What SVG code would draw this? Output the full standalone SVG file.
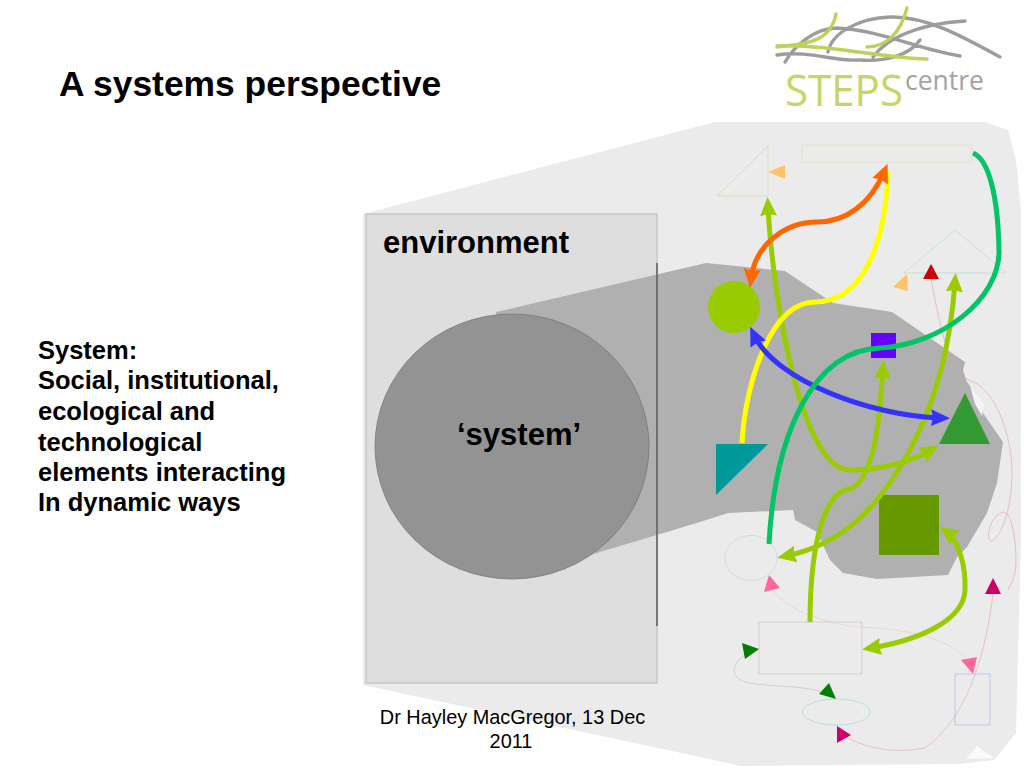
<svg xmlns="http://www.w3.org/2000/svg" width="1024" height="768" viewBox="0 0 1024 768">
<style>
text{font-family:"Liberation Sans",Arial,sans-serif;fill:#000}
.b{font-weight:bold}
.thick{fill:none;stroke-width:5;stroke-linecap:butt}
.thin{fill:none;stroke-width:.6}
.lg{stroke:#99cc00}
.logoG{fill:none;stroke:#9c9c9c;stroke-width:3.4;stroke-linecap:round}
.logoL{fill:none;stroke:#bdd258;stroke-width:3.4;stroke-linecap:round}
</style>
<defs>
<marker id="aLg" markerUnits="userSpaceOnUse" markerWidth="21" markerHeight="19" refX="10" refY="9" orient="auto-start-reverse"><path d="M0 0.500L19 9L0 17.500L2 9Z" fill="#99cc00"/></marker>
<marker id="aOr" markerUnits="userSpaceOnUse" markerWidth="21" markerHeight="19" refX="10" refY="9" orient="auto-start-reverse"><path d="M0 0.500L19 9L0 17.500L2 9Z" fill="#ff6600"/></marker>
<marker id="aBl" markerUnits="userSpaceOnUse" markerWidth="21" markerHeight="19" refX="10" refY="9" orient="auto-start-reverse"><path d="M0 0.500L19 9L0 17.500L2 9Z" fill="#3333ff"/></marker>
</defs>
<rect width="1024" height="768" fill="#fff"/>
<g id="background">
<polygon points="363,214 715,122 985,122 1008,130 1016,160 1021,210 1021,540 1016,733 994,760 960,764 740,766 700,757 363,685" fill="#ebebeb"/>
<polygon points="966,759 977,746 985,752 995,758" fill="#fafafa"/>
<rect x="366" y="214" width="291" height="469" fill="#dedede" stroke="#b8b8b8"/>
<polygon points="496,312 706,263 785,271 833,303 892,312 965,362 963,370 967,382 983,403 983,413 1003,442 997,483 987,513 967,547 957,557 948,575 877,579 843,573 830,560 822,543 817,532 795,520 793,510 728,513 700,522 590,555 512,450" fill="#b0b0b0"/>
<polygon points="970,386 984,403 982,416 975,404" fill="#f4f4f4"/>
<line x1="657" y1="263" x2="657" y2="626" stroke="#5a5a5a" stroke-width="1.5"/>
</g>
<g id="title"><text class="b" x="59" y="96" font-size="35.400">A systems perspective</text></g>
<g id="logo">
<path class="logoG" d="M785,62C795,45 815,28 837,28C880,30 920,50 960,56M777,55C810,50 835,62 860,60C885,62 910,55 920,40M828,52C832,32 860,18 890,17C925,16 960,35 1000,57M873,57C885,40 915,24 965,21"/>
<path class="logoL" d="M777,47C800,44 830,45 836,14M777,46C830,44 880,58 927,59M867,47C885,47 900,35 907,8"/>
<text x="785" y="106" font-size="44" style="fill:#c3d668;font-family:'Open Sans',sans-serif" textLength="118" lengthAdjust="spacingAndGlyphs">STEPS</text>
<text x="905" y="90" font-size="27" style="fill:#a3a3a3;font-family:'Open Sans',sans-serif" textLength="79" lengthAdjust="spacingAndGlyphs">centre</text>
</g>
<g id="system-caption">
<text class="b" font-size="25.500" x="38" y="359">System:</text>
<text class="b" font-size="25.500" x="38" y="389">Social, institutional,</text>
<text class="b" font-size="25.500" x="38" y="420">ecological and</text>
<text class="b" font-size="25.500" x="38" y="451">technological</text>
<text class="b" font-size="25.500" x="38" y="481">elements interacting</text>
<text class="b" font-size="25.500" x="38" y="511">In dynamic ways</text>
</g>
<g id="environment"><text class="b" x="383" y="253" font-size="31">environment</text></g>
<g id="system"><ellipse cx="512" cy="446.500" rx="137" ry="132.500" fill="#939393" stroke="#777" stroke-width=".8"/><text class="b" x="457" y="445" font-size="31">‘system’</text></g>
<g id="footer"><text x="512.500" y="724" font-size="19.900" text-anchor="middle">Dr Hayley MacGregor, 13 Dec</text><text x="511" y="748" font-size="19.900" text-anchor="middle">2011</text></g>
<g id="n-tri-outline"><polygon points="717,196 768,146 768,196" fill="none" stroke="#d4d4b0" stroke-width=".7"/></g>
<g id="n-bar"><rect x="802" y="145" width="170" height="17" fill="none" stroke="#e0e0b8" stroke-width=".7"/></g>
<g id="n-tri-teal"><polygon points="904,273 955,230 1006,273" fill="none" stroke="#b0e0d4" stroke-width=".7"/></g>
<g id="n-circle"><circle cx="734" cy="307" r="26" fill="#99cc00"/></g>
<g id="n-square-blue"><rect x="871" y="333" width="25" height="25" fill="#6600ff"/></g>
<g id="n-tri-dark-teal"><polygon points="716,444 768,444 716,495" fill="#009999"/></g>
<g id="n-tri-green"><polygon points="965,393 939,444 990,444" fill="#339933"/></g>
<g id="n-square-green"><rect x="879" y="495" width="60" height="60" fill="#669900"/></g>
<g id="n-ellipse1"><ellipse cx="751" cy="558" rx="26" ry="22.500" fill="none" stroke="#c4d4dc" stroke-width=".7"/></g>
<g id="n-box"><rect x="759" y="622" width="103" height="52" fill="none" stroke="#cfc8b4" stroke-width=".8"/></g>
<g id="n-ellipse2"><ellipse cx="836.500" cy="712" rx="34" ry="13" fill="none" stroke="#a8d4e0" stroke-width=".7"/></g>
<g id="n-box2"><rect x="955" y="674" width="35" height="51" fill="none" stroke="#b8b8f0" stroke-width=".8"/></g>
<g id="connectors">
<path class="thin" stroke="#e0a0a8" d="M931,279C935,300 942,338 950,355C956,368 962,378 973,382C995,390 1012,435 1012,473C1012,510 1000,540 991,541C985,540 990,515 1003,512C1012,512 1016,540 1016,560C1016,575 1012,583 1008,590"/>
<path class="thin" stroke="#e8a0b0" d="M993,594C985,660 965,720 925,748C900,753 870,750 848,738"/>
<path class="thin" stroke="#e8c8c8" d="M772,590C790,612 830,625 860,627C900,629 945,635 968,660"/>
<path class="thin" stroke="#b8c0b8" d="M745,655C730,665 730,680 750,683C770,687 800,685 822,692"/>
<path class="thick lg" marker-end="url(#aLg)" d="M850,470C800,470 772,290 768,206"/>
<path class="thick lg" d="M850,470C880,470 910,462 931,450" marker-end="url(#aLg)"/>
<path class="thick lg" marker-start="url(#aLg)" marker-end="url(#aLg)" d="M955,282C950,350 935,400 915,440C880,510 840,545 786,556"/>
<path class="thick lg" marker-start="url(#aLg)" d="M883,369C880,410 876,480 850,489C820,492 810,560 810,622"/>
<path class="thick lg" marker-start="url(#aLg)" marker-end="url(#aLg)" d="M947,532C958,540 966,565 965,590C964,620 920,640 871,648"/>
<path class="thick" stroke="#ffff00" d="M742,443C745,385 770,302 815,302C860,302 885,250 888,172"/>
<path class="thick" stroke="#ff6600" marker-start="url(#aOr)" marker-end="url(#aOr)" d="M884,172C870,205 845,222 817,222C785,222 755,245 751,279"/>
<path class="thick" stroke="#3333ff" marker-start="url(#aBl)" marker-end="url(#aBl)" d="M754,335C775,380 870,416 941,418"/>
<path class="thick" stroke="#00c466" d="M973,153C990,160 998,200 999,250C1000,300 940,345 880,348C815,350 775,430 769,544"/>
</g>
<g id="markers">
<polygon points="768,172 785,165 785,179" fill="#ffc266"/>
<polygon points="907,274 893,287 908,291" fill="#ffc266"/>
<polygon points="931,264 923,279 939,279" fill="#cc0000"/>
<polygon points="769,575 764,592 780,588" fill="#ff6699"/>
<polygon points="961,660 977,657 973,674" fill="#ff6699"/>
<polygon points="742,643 759,649 745,659" fill="#008000"/>
<polygon points="829,683 819,694 836,699" fill="#008000"/>
<polygon points="837,726 851,735 837,743" fill="#cc0066"/>
<polygon points="993,578 985,594 1001,594" fill="#cc0066"/>
</g>
</svg>
